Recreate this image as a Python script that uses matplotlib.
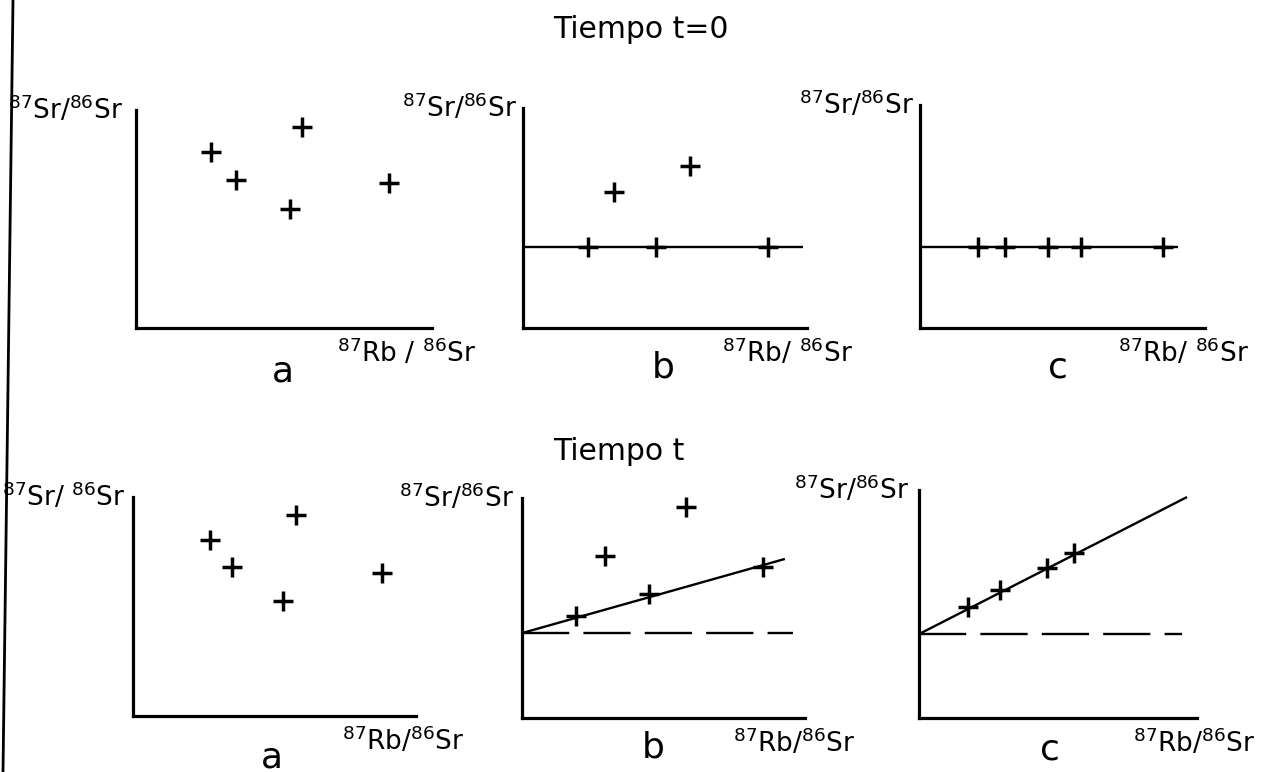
import matplotlib
matplotlib.use('Agg')
import matplotlib.pyplot as plt
from matplotlib.lines import Line2D
from matplotlib.transforms import offset_copy

# ── data (arbitrary units, axis length = 100) ────────────────────────────────
# tiempo t = 0
t0a_x = [25.3, 33.8, 56.1, 52.0, 85.5]
t0a_y = [80.7, 67.9, 92.2, 54.6, 66.5]

t0b_x = [22.9, 46.8, 86.3, 32.0, 58.8]
t0b_y = [36.8, 36.8, 36.8, 61.8, 73.6]
t0b_line_x = [0, 98.6]
t0b_line_y = [36.8, 36.8]

t0c_x = [20.4, 29.8, 44.9, 56.5, 85.3]
t0c_y = [36.3, 36.3, 36.3, 36.3, 36.3]
t0c_line_x = [0, 90.5]
t0c_line_y = [36.3, 36.3]

# tiempo t
t1a_x = [27.2, 35.0, 57.6, 53.0, 88.0]
t1a_y = [80.4, 68.0, 91.8, 52.5, 65.3]

t1b_x = [19.1, 44.9, 85.2, 29.3, 57.9]
t1b_y = [46.4, 56.4, 68.6, 73.6, 95.9]
t1b_iso_x = [0, 92.9]
t1b_iso_y = [38.6, 72.3]
t1b_ref_x = [0, 95.8]
t1b_ref_y = [38.6, 38.6]

t1c_x = [17.6, 29.1, 46.0, 55.8]
t1c_y = [48.7, 56.1, 65.8, 72.4]
t1c_iso_x = [0, 96.4]
t1c_iso_y = [36.8, 96.9]
t1c_ref_x = [0, 94.6]
t1c_ref_y = [36.8, 36.8]

YLABS = [r'$^{87}$Sr/$^{86}$Sr', r'$^{87}$Sr/$^{86}$Sr', r'$^{87}$Sr/$^{86}$Sr',
         r'$^{87}$Sr/ $^{86}$Sr', r'$^{87}$Sr/$^{86}$Sr', r'$^{87}$Sr/$^{86}$Sr']
XLABS = [r'$^{87}$Rb / $^{86}$Sr', r'$^{87}$Rb/ $^{86}$Sr', r'$^{87}$Rb/ $^{86}$Sr',
         r'$^{87}$Rb/$^{86}$Sr', r'$^{87}$Rb/$^{86}$Sr', r'$^{87}$Rb/$^{86}$Sr']
LETTERS = ['a', 'b', 'c', 'a', 'b', 'c']

# ── canvas ───────────────────────────────────────────────────────────────────
W, H, DPI = 1262, 772, 100
fig = plt.figure(figsize=(W / DPI, H / DPI), dpi=DPI)
fig.patch.set_facecolor('white')

# panel boxes in px: (left, top, right, bottom)
BOXES = [(136, 110, 432, 328), (523, 108, 807, 328), (920, 105, 1205, 328),
         (133, 497, 416, 716), (522, 498, 805, 718), (919, 490, 1197, 718)]
XLAB_POS = [0.68, 0.70, 0.695, 0.74, 0.745, 0.77]      # axes fraction
YLAB_GAP = [-13, -6, -6, -8, -8, -10]                   # px left of y axis
LETTER_POS = [(283, 381), (663, 378), (1058, 378), (272, 767), (653, 757), (1050, 760)]

axes = []
for (l, t, r, b) in BOXES:
    ax = fig.add_axes([l / W, 1 - b / H, (r - l) / W, (b - t) / H])
    ax.set_xlim(0, 100)
    ax.set_ylim(0, 100)
    for s in ('top', 'right'):
        ax.spines[s].set_visible(False)
    for s in ('left', 'bottom'):
        ax.spines[s].set_linewidth(2.3)
        ax.spines[s].set_color('black')
    ax.set_xticks([])
    ax.set_yticks([])
    ax.patch.set_alpha(0)
    axes.append(ax)

MK = dict(marker='+', linestyle='none', color='black', markersize=14,
          markeredgewidth=2.5, clip_on=False, zorder=5)
LN = dict(color='black', lw=1.7, clip_on=False, solid_capstyle='butt')
DASH = dict(color='black', lw=1.7, clip_on=False, linestyle=(0, (20, 6)))

axes[0].plot(t0a_x, t0a_y, **MK)

axes[1].plot(t0b_line_x, t0b_line_y, **LN)
axes[1].plot(t0b_x, t0b_y, **MK)

axes[2].plot(t0c_line_x, t0c_line_y, **LN)
axes[2].plot(t0c_x, t0c_y, **MK)

axes[3].plot(t1a_x, t1a_y, **MK)

axes[4].plot(t1b_ref_x, t1b_ref_y, **DASH)
axes[4].plot(t1b_iso_x, t1b_iso_y, **LN)
axes[4].plot(t1b_x, t1b_y, **MK)

axes[5].plot(t1c_ref_x, t1c_ref_y, **DASH)
axes[5].plot(t1c_iso_x, t1c_iso_y, **LN)
axes[5].plot(t1c_x, t1c_y, **MK)

# ── labels ───────────────────────────────────────────────────────────────────
for i, ax in enumerate(axes):
    tr = offset_copy(ax.transAxes, fig=fig, x=YLAB_GAP[i], y=0, units='dots')
    ax.text(0, 1.0, YLABS[i], transform=tr, ha='right', va='center',
            fontsize=19, color='black')
    tr2 = offset_copy(ax.transAxes, fig=fig, x=0, y=-25, units='dots')
    ax.text(XLAB_POS[i], 0, XLABS[i], transform=tr2, ha='left', va='center',
            fontsize=19, color='black')
    lx, ly = LETTER_POS[i]
    fig.text(lx / W, 1 - ly / H, LETTERS[i], ha='center', va='baseline',
             fontsize=26, color='black')

fig.text(553 / W, 1 - 30 / H, 'Tiempo t=0', ha='left', va='center',
         fontsize=21.5, color='black')
fig.text(553 / W, 1 - 452 / H, 'Tiempo t', ha='left', va='center',
         fontsize=21.5, color='black')

# page edge of the scan
fig.add_artist(Line2D([13 / W, 3 / W], [1, 0], transform=fig.transFigure,
                      color='black', lw=2))

fig.savefig('out.png', dpi=DPI, facecolor='white')
plt.close(fig)
